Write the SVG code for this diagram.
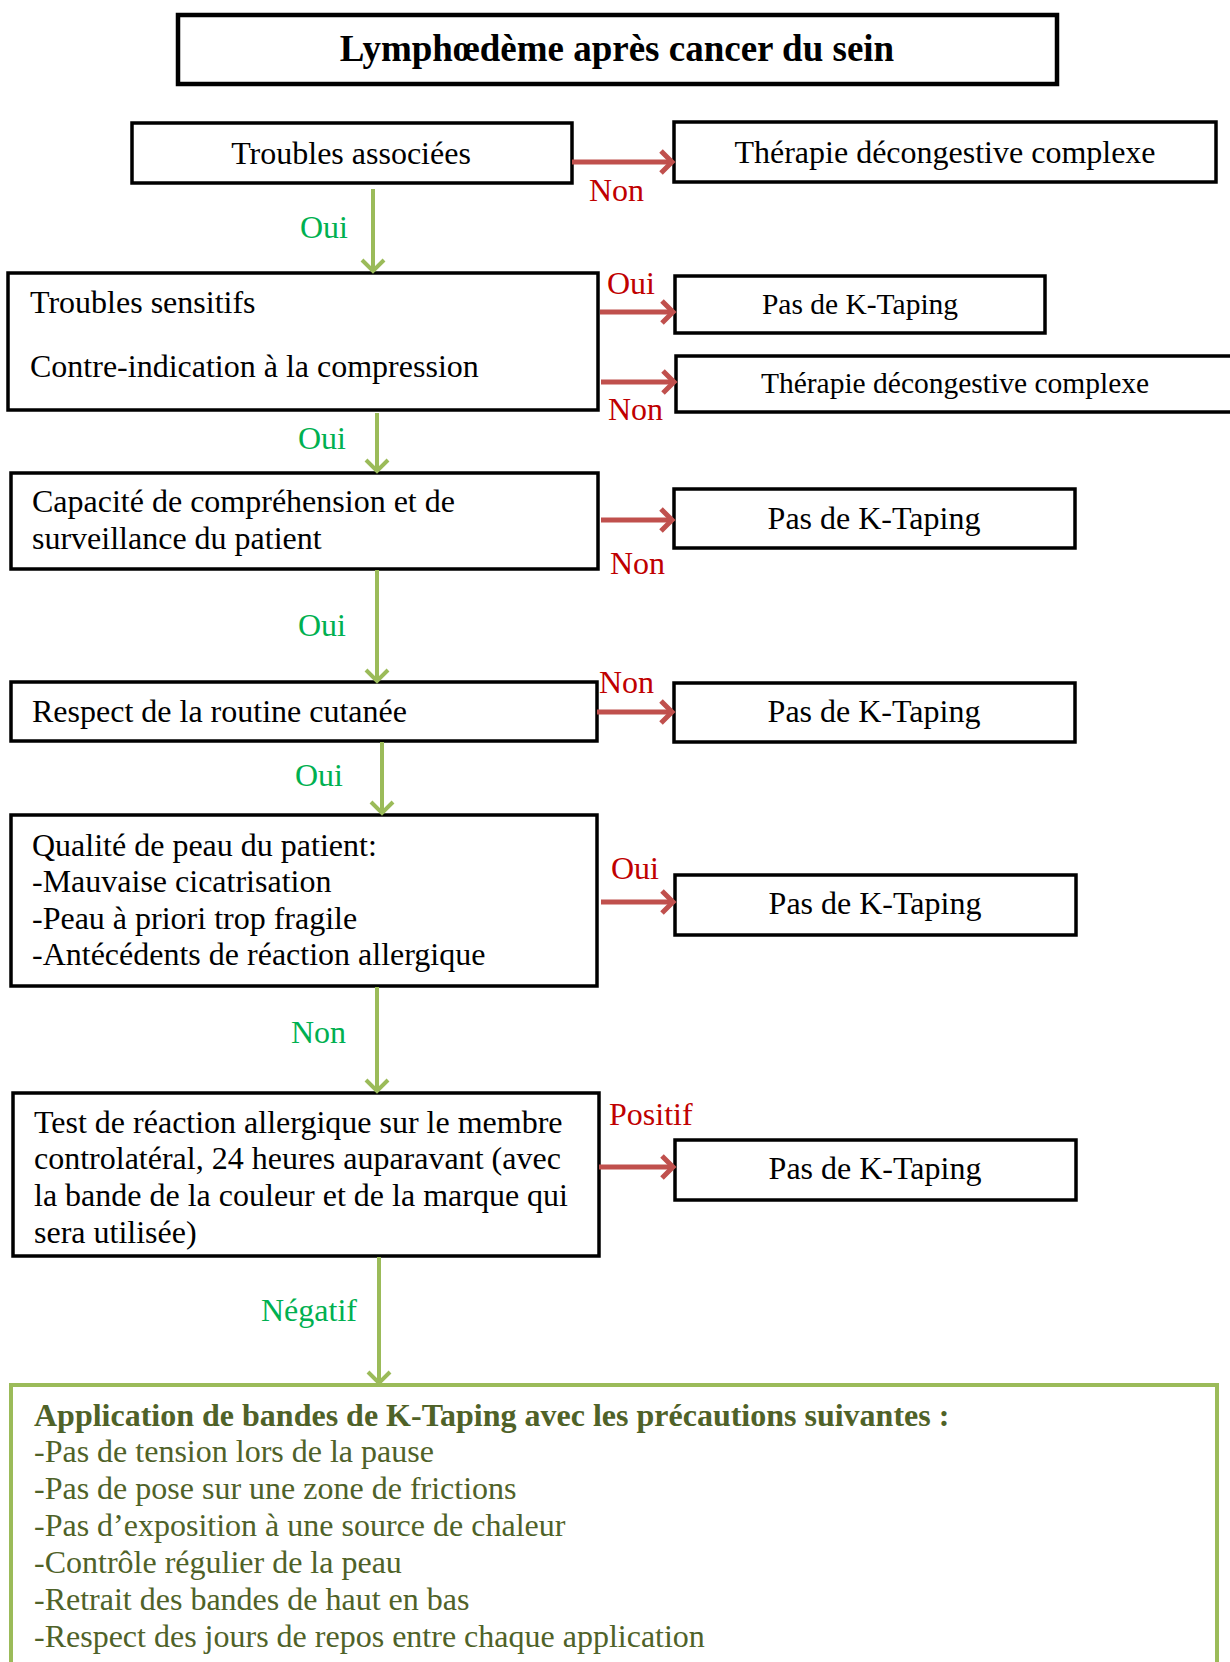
<svg xmlns="http://www.w3.org/2000/svg" width="1230" height="1662" viewBox="0 0 1230 1662">
<style>
.box{fill:#fff;stroke:#000;stroke-width:3.5}
.t{font-family:"Liberation Serif","Times New Roman",serif;font-size:32px;fill:#000}
.c{text-anchor:middle}
.s{font-size:29.5px}
.red{fill:#C00000}
.grn{fill:#00B050}
.ar{stroke:#C0504D;stroke-width:5;fill:none}
.ag{stroke:#9BBB59;stroke-width:4;fill:none}
.g{fill:#4F6228}
</style>
<defs>
<marker id="hr" markerUnits="userSpaceOnUse" markerWidth="18" markerHeight="26" refX="13" refY="13" orient="auto" viewBox="0 0 18 26">
<path d="M2,2 L13,13 L2,24" fill="none" stroke="#C0504D" stroke-width="5"/>
</marker>
<marker id="hg" markerUnits="userSpaceOnUse" markerWidth="18" markerHeight="26" refX="13" refY="13" orient="auto" viewBox="0 0 18 26">
<path d="M2,2 L13,13 L2,24" fill="none" stroke="#9BBB59" stroke-width="4"/>
</marker>
</defs>
<rect width="1230" height="1662" fill="#fff"/>

<g id="title">
<rect x="178" y="15" width="879" height="69" fill="#fff" stroke="#000" stroke-width="4.5"/>
<text class="t c" x="617" y="61" style="font-weight:bold;font-size:37px">Lymphœdème après cancer du sein</text>
</g>

<g id="n1">
<rect class="box" x="132" y="123" width="440" height="60"/>
<text class="t c" x="351" y="164">Troubles associées</text>
</g>
<g id="n1r">
<rect class="box" x="674" y="122" width="542" height="60"/>
<text class="t c" x="945" y="163">Thérapie décongestive complexe</text>
</g>

<g id="n2">
<rect class="box" x="8" y="273" width="590" height="137"/>
<text class="t" x="30" y="313">Troubles sensitifs</text>
<text class="t" x="30" y="377">Contre-indication à la compression</text>
</g>
<g id="n2a">
<rect class="box" x="675" y="276" width="370" height="57"/>
<text class="t c s" x="860" y="314">Pas de K-Taping</text>
</g>
<g id="n2b">
<rect class="box" x="676" y="356" width="570" height="56"/>
<text class="t c s" x="955" y="393">Thérapie décongestive complexe</text>
</g>

<g id="n3">
<rect class="box" x="11" y="473" width="587" height="96"/>
<text class="t" x="32" y="512">Capacité de compréhension et de</text>
<text class="t" x="32" y="549">surveillance du patient</text>
</g>
<g id="n3r">
<rect class="box" x="674" y="489" width="401" height="59"/>
<text class="t c" x="874" y="529">Pas de K-Taping</text>
</g>

<g id="n4">
<rect class="box" x="11" y="682" width="586" height="59"/>
<text class="t" x="32" y="722">Respect de la routine cutanée</text>
</g>
<g id="n4r">
<rect class="box" x="674" y="683" width="401" height="59"/>
<text class="t c" x="874" y="722">Pas de K-Taping</text>
</g>

<g id="n5">
<rect class="box" x="11" y="815" width="586" height="171"/>
<text class="t" x="32" y="856">Qualité de peau du patient:</text>
<text class="t" x="32" y="892">-Mauvaise cicatrisation</text>
<text class="t" x="32" y="929">-Peau à priori trop fragile</text>
<text class="t" x="32" y="965">-Antécédents de réaction allergique</text>
</g>
<g id="n5r">
<rect class="box" x="675" y="875" width="401" height="60"/>
<text class="t c" x="875" y="914">Pas de K-Taping</text>
</g>

<g id="n6">
<rect class="box" x="13" y="1093" width="586" height="163"/>
<text class="t" x="34" y="1133">Test de réaction allergique sur le membre</text>
<text class="t" x="34" y="1169">controlatéral, 24 heures auparavant (avec</text>
<text class="t" x="34" y="1206">la bande de la couleur et de la marque qui</text>
<text class="t" x="34" y="1243">sera utilisée)</text>
</g>
<g id="n6r">
<rect class="box" x="675" y="1140" width="401" height="60"/>
<text class="t c" x="875" y="1179">Pas de K-Taping</text>
</g>

<g id="n7">
<rect x="11" y="1385" width="1206" height="300" fill="#fff" stroke="#9BBB59" stroke-width="4"/>
<text class="t g" x="34" y="1426" style="font-weight:bold">Application de bandes de K-Taping avec les précautions suivantes :</text>
<text class="t g" x="34" y="1462">-Pas de tension lors de la pause</text>
<text class="t g" x="34" y="1499">-Pas de pose sur une zone de frictions</text>
<text class="t g" x="34" y="1536">-Pas d’exposition à une source de chaleur</text>
<text class="t g" x="34" y="1573">-Contrôle régulier de la peau</text>
<text class="t g" x="34" y="1610">-Retrait des bandes de haut en bas</text>
<text class="t g" x="34" y="1647">-Respect des jours de repos entre chaque application</text>
</g>

<g id="connectors">
<line class="ar" x1="572" y1="162" x2="672" y2="162" marker-end="url(#hr)"/>
<line class="ar" x1="600" y1="312" x2="673" y2="312" marker-end="url(#hr)"/>
<line class="ar" x1="601" y1="382" x2="674" y2="382" marker-end="url(#hr)"/>
<line class="ar" x1="601" y1="520" x2="672" y2="520" marker-end="url(#hr)"/>
<line class="ar" x1="597" y1="712" x2="672" y2="712" marker-end="url(#hr)"/>
<line class="ar" x1="601" y1="902" x2="673" y2="902" marker-end="url(#hr)"/>
<line class="ar" x1="599" y1="1167" x2="673" y2="1167" marker-end="url(#hr)"/>

<line class="ag" x1="373" y1="189" x2="373" y2="271" marker-end="url(#hg)"/>
<line class="ag" x1="377" y1="413" x2="377" y2="471" marker-end="url(#hg)"/>
<line class="ag" x1="377" y1="570" x2="377" y2="681" marker-end="url(#hg)"/>
<line class="ag" x1="382" y1="742" x2="382" y2="813" marker-end="url(#hg)"/>
<line class="ag" x1="377" y1="987" x2="377" y2="1091" marker-end="url(#hg)"/>
<line class="ag" x1="379" y1="1257" x2="379" y2="1383" marker-end="url(#hg)"/>

<text class="t red" x="589" y="201">Non</text>
<text class="t grn" x="300" y="238">Oui</text>
<text class="t red" x="607" y="294">Oui</text>
<text class="t red" x="608" y="420">Non</text>
<text class="t grn" x="298" y="449">Oui</text>
<text class="t red" x="610" y="574">Non</text>
<text class="t grn" x="298" y="636">Oui</text>
<text class="t red" x="599" y="693">Non</text>
<text class="t grn" x="295" y="786">Oui</text>
<text class="t red" x="611" y="879">Oui</text>
<text class="t grn" x="291" y="1043">Non</text>
<text class="t red" x="609" y="1125">Positif</text>
<text class="t grn" x="261" y="1321">Négatif</text>
</g>
</svg>
